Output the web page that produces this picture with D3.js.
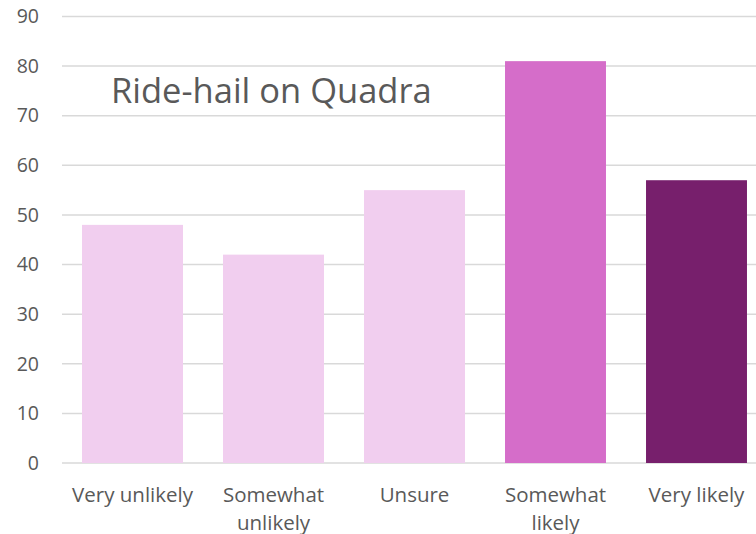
<!DOCTYPE html>
<html>
<head>
<meta charset="utf-8">
<script src="https://cdn.jsdelivr.net/npm/d3@7"></script>
<style>
	body { margin: 0; background: #fff; }
	svg { display: block; }
	svg text { font-family: "Open Sans", "Noto Sans", sans-serif; }
</style>
</head>
<body>
<main></main>
<script>
const categories = ["Very unlikely", "Somewhat unlikely", "Unsure", "Somewhat likely", "Very likely"];
const values = [48, 42, 55, 81, 57];
const barColors = ["#F1CEEF", "#F1CEEF", "#F1CEEF", "#D56DC9", "#771F6C"];
const yTicks = [0, 10, 20, 30, 40, 50, 60, 70, 80, 90];
const chartTitle = "Ride-hail on Quadra";

function drawChart() {
	const width = 756;
	const height = 534;

	let dimensions = {
		width: width,
		height: height,
		margins: {
			top: 16.5,
			right: -11,
			bottom: 71,
			left: 62,
		},
	};
	dimensions.boundedWidth = dimensions.width - dimensions.margins.left - dimensions.margins.right;
	dimensions.boundedHeight = dimensions.height - dimensions.margins.top - dimensions.margins.bottom;

	const svg = d3.select("main")
		.append("svg")
		.attr("width", dimensions.width)
		.attr("height", dimensions.height);

	const graph = svg.append("g")
		.attr("transform", `translate(${dimensions.margins.left}, ${dimensions.margins.top})`);

	const xScale = d3.scaleBand()
		.domain(categories)
		.range([0, dimensions.boundedWidth])
		.paddingInner(0.284)
		.paddingOuter(0.142);

	const yScale = d3.scaleLinear()
		.domain([0, 90])
		.range([dimensions.boundedHeight, 0]);

	// gridlines
	graph.append("g")
		.selectAll("line")
		.data(yTicks)
		.enter()
		.append("line")
		.attr("x1", 0)
		.attr("x2", width - dimensions.margins.left)
		.attr("y1", d => yScale(d))
		.attr("y2", d => yScale(d))
		.attr("stroke", "#D9D9D9")
		.attr("stroke-width", 1.5);

	graph.selectAll("rect")
		.data(values)
		.enter()
		.append("rect")
		.attr("x", (d, i) => xScale(categories[i]))
		.attr("y", d => yScale(d))
		.attr("width", xScale.bandwidth())
		.attr("height", d => yScale(0) - yScale(d))
		.attr("fill", (d, i) => barColors[i]);

	const yAxis = graph.append("g")
		.call(d3.axisLeft(yScale).tickValues(yTicks).tickSize(0).tickPadding(23))
		.attr("font-family", null)
		.attr("font-size", null);
	yAxis.select(".domain").remove();
	yAxis.selectAll("text")
		.attr("fill", "#595959")
		.style("font-size", "19.5px");

	const xAxis = graph.append("g")
		.attr("transform", `translate(0, ${dimensions.boundedHeight})`)
		.call(d3.axisBottom(xScale).tickSize(0).tickPadding(0))
		.attr("font-family", null)
		.attr("font-size", null);
	xAxis.select(".domain").remove();
	xAxis.selectAll("text").remove();
	xAxis.selectAll(".tick")
		.append("text")
		.attr("fill", "#595959")
		.attr("text-anchor", "middle")
		.style("font-size", "20.5px")
		.each(function(d) {
			const el = d3.select(this);
			const words = d.split(" ");
			const maxW = 136;
			let lines = [];
			let line = [];
			words.forEach(w => {
				const test = line.concat(w).join(" ");
				el.text(test);
				if (this.getComputedTextLength() > maxW && line.length) {
					lines.push(line.join(" "));
					line = [w];
				} else {
					line.push(w);
				}
			});
			lines.push(line.join(" "));
			el.text(null);
			lines.forEach((l, i) => {
				el.append("tspan")
					.attr("x", 0)
					.attr("y", 38.5 + i * 28)
					.text(l);
			});
		});

	svg.append("text")
		.attr("x", 111)
		.attr("y", 103)
		.attr("fill", "#595959")
		.style("font-size", "34.5px")
		.text(chartTitle);
}
drawChart();
</script>
</body>
</html>
